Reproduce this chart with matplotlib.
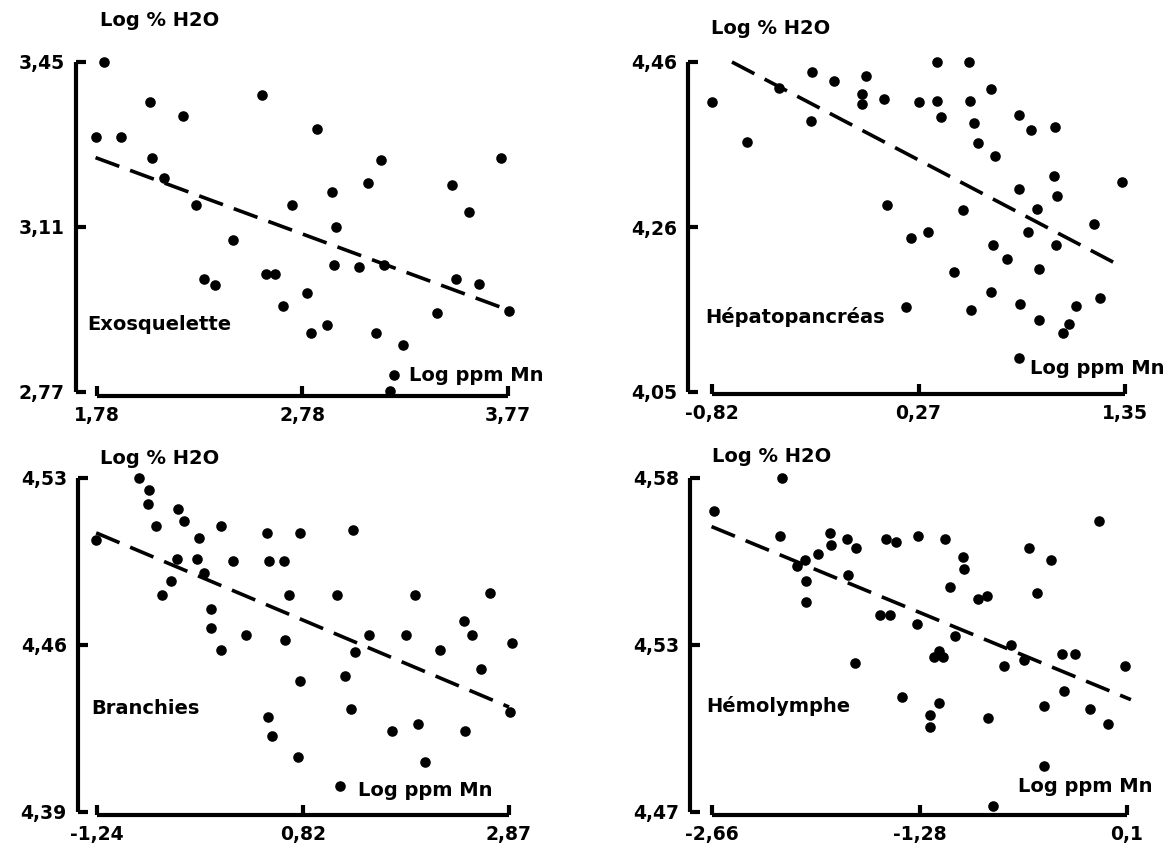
import matplotlib.pyplot as plt

W, H = 1174, 861

# Exosquelette
exo_x = [1.813, 1.776, 1.896, 2.035, 2.044, 2.195, 2.103, 2.260, 2.579, 2.437,
         2.297, 2.349, 2.597, 2.643, 2.726, 2.681, 2.843, 2.797, 2.815, 2.894,
         2.920, 2.935, 2.929, 3.049, 3.091, 3.157, 3.170, 3.129, 3.262, 3.220,
         3.198, 3.497, 3.580, 3.517, 3.632, 3.426, 3.738, 3.775]
exo_y = [3.450, 3.296, 3.296, 3.367, 3.253, 3.339, 3.211, 3.155, 3.383, 3.083,
         3.002, 2.990, 3.014, 3.014, 3.156, 2.947, 3.311, 2.975, 2.892, 2.908,
         3.183, 3.110, 3.031, 3.028, 3.201, 3.248, 3.031, 2.892, 2.866, 2.806,
         2.772, 3.196, 3.141, 3.002, 2.993, 2.933, 3.253, 2.936]
exo_line_x = [1.773, 3.733]
exo_line_y = [3.253, 2.945]
exo_xlim = [1.78, 3.77]
exo_ylim = [2.77, 3.45]
exo_xticklabels = ['1,78', '2,78', '3,77']
exo_yticklabels = ['2,77', '3,11', '3,45']

# Hépatopancréas
hep_x = [-0.820, -0.635, -0.467, -0.292, -0.302, -0.179, -0.010, -0.030, -0.030, 0.085,
         0.099, 0.268, 0.361, 0.361, 0.381, 0.225, 0.314, 0.200, 0.449, 0.498,
         0.532, 0.536, 0.556, 0.580, 0.645, 0.665, 0.542, 0.645, 0.659, 0.729,
         0.794, 0.854, 0.794, 0.889, 0.838, 0.800, 0.899, 0.899, 0.794, 0.983,
         0.979, 0.993, 0.989, 1.092, 1.058, 1.022, 1.187, 1.221, 1.336]
hep_y = [4.410, 4.360, 4.428, 4.448, 4.387, 4.437, 4.443, 4.420, 4.408, 4.414,
         4.282, 4.410, 4.460, 4.411, 4.392, 4.241, 4.249, 4.156, 4.199, 4.276,
         4.460, 4.411, 4.384, 4.359, 4.427, 4.343, 4.152, 4.174, 4.233, 4.215,
         4.394, 4.376, 4.302, 4.277, 4.249, 4.159, 4.203, 4.139, 4.092, 4.379,
         4.318, 4.293, 4.233, 4.157, 4.134, 4.123, 4.259, 4.167, 4.311]
hep_line_x = [-0.715, 1.307]
hep_line_y = [4.460, 4.209]
hep_xlim = [-0.82, 1.35]
hep_ylim = [4.05, 4.46]
hep_xticklabels = ['-0,82', '0,27', '1,35']
hep_yticklabels = ['4,05', '4,26', '4,46']

# Branchies
bra_x = [-1.248, -0.821, -0.726, -0.733, -0.650, -0.429, -0.376, -0.220, -0.440, -0.505,
         -0.593, -0.243, -0.174, -0.098, -0.098, -0.003, -0.003, 0.119, 0.244, 0.454,
         0.473, 0.625, 0.674, 0.633, 0.785, 0.789, 0.462, 0.504, 0.766, 1.150,
         1.310, 1.329, 1.238, 1.291, 1.188, 1.474, 1.699, 1.843, 1.931, 1.965,
         2.034, 2.178, 2.426, 2.501, 2.593, 2.433, 2.680, 2.897, 2.878]
bra_y = [4.504, 4.530, 4.525, 4.519, 4.510, 4.517, 4.512, 4.505, 4.496, 4.487,
         4.481, 4.496, 4.490, 4.475, 4.467, 4.458, 4.510, 4.495, 4.464, 4.507,
         4.495, 4.495, 4.481, 4.462, 4.507, 4.445, 4.430, 4.422, 4.413, 4.481,
         4.508, 4.457, 4.447, 4.433, 4.401, 4.464, 4.424, 4.464, 4.481, 4.427,
         4.411, 4.458, 4.470, 4.464, 4.450, 4.424, 4.482, 4.461, 4.432]
bra_line_x = [-1.248, 2.870]
bra_line_y = [4.507, 4.434]
bra_xlim = [-1.24, 2.87]
bra_ylim = [4.39, 4.53]
bra_xticklabels = ['-1,24', '0,82', '2,87']
bra_yticklabels = ['4,39', '4,46', '4,53']

# Hémolymphe
hem_x = [-2.650, -2.196, -2.206, -2.093, -2.042, -2.032, -2.037, -1.957, -1.873, -1.868,
         -1.760, -1.704, -1.755, -1.710, -1.546, -1.478, -1.503, -1.437, -1.394, -1.289,
         -1.299, -1.210, -1.210, -1.150, -1.185, -1.150, -1.122, -1.110, -1.079, -1.041,
         -0.991, -0.986, -0.890, -0.832, -0.822, -0.789, -0.721, -0.670, -0.587, -0.550,
         -0.499, -0.449, -0.449, -0.406, -0.318, -0.330, -0.247, -0.146, -0.083, -0.028,
         0.088]
hem_y = [4.569, 4.580, 4.561, 4.551, 4.553, 4.546, 4.539, 4.555, 4.562, 4.558,
         4.560, 4.557, 4.548, 4.519, 4.535, 4.535, 4.560, 4.559, 4.508, 4.561,
         4.532, 4.502, 4.498, 4.506, 4.521, 4.523, 4.521, 4.560, 4.544, 4.528,
         4.554, 4.550, 4.540, 4.541, 4.501, 4.472, 4.518, 4.525, 4.520, 4.557,
         4.542, 4.505, 4.485, 4.553, 4.510, 4.522, 4.522, 4.504, 4.566, 4.499,
         4.518]
hem_line_x = [-2.663, 0.126]
hem_line_y = [4.564, 4.507]
hem_xlim = [-2.66, 0.1]
hem_ylim = [4.47, 4.58]
hem_xticklabels = ['-2,66', '-1,28', '0,1']
hem_yticklabels = ['4,47', '4,53', '4,58']


def fig_xy(x, y):
    # pixel position -> figure fraction
    return x / W, 1 - y / H


def create_plot(fig, box, x, y, line_x, line_y, xlim, ylim, xlabels, ylabels,
                left_off, bottom_off, name, title_pos, name_pos, xname_pos):
    x0, y0, x1, y1 = box
    ax = fig.add_axes([x0 / W, 1 - y1 / H, (x1 - x0) / W, (y1 - y0) / H])
    ax.scatter(x, y, s=58, c='k', linewidths=0, clip_on=False, zorder=3)
    ax.plot(line_x, line_y, c='k', lw=2.6, dashes=(7, 3.2), solid_capstyle='butt',
            clip_on=False)
    ax.set_xlim(xlim)
    ax.set_ylim(ylim)
    ax.set_xticks([xlim[0], (xlim[0] + xlim[1]) / 2, xlim[1]])
    ax.set_xticklabels(xlabels)
    ax.set_yticks([ylim[0], (ylim[0] + ylim[1]) / 2, ylim[1]])
    ax.set_yticklabels(ylabels)
    for s in ['top', 'right']:
        ax.spines[s].set_visible(False)
    ax.spines['left'].set_position(('outward', left_off * 0.72))
    ax.spines['bottom'].set_position(('outward', bottom_off * 0.72))
    ax.spines['left'].set_bounds(ylim[0], ylim[1])
    ax.spines['bottom'].set_bounds(xlim[0], xlim[1])
    for s in ['left', 'bottom']:
        ax.spines[s].set_linewidth(3.0)
        ax.spines[s].set_capstyle('butt')
    ax.tick_params(axis='both', direction='in', length=7, width=3.0,
                   labelsize=13.5)
    ax.tick_params(axis='y', pad=8)
    ax.tick_params(axis='x', pad=7)
    for lab in ax.get_xticklabels() + ax.get_yticklabels():
        lab.set_fontweight('bold')
    ax.patch.set_visible(False)

    fig.text(*fig_xy(*title_pos), 'Log % H2O', fontsize=14, fontweight='bold',
             ha='left', va='center')
    fig.text(*fig_xy(*name_pos), name, fontsize=14, fontweight='bold',
             ha='left', va='center')
    fig.text(*fig_xy(*xname_pos), 'Log ppm Mn', fontsize=14, fontweight='bold',
             ha='left', va='center')
    return ax


fig = plt.figure(figsize=(W / 100, H / 100), dpi=100)

create_plot(fig, (97, 62, 508, 392), exo_x, exo_y, exo_line_x, exo_line_y,
            exo_xlim, exo_ylim, exo_xticklabels, exo_yticklabels, 21, 4,
            'Exosquelette', (100, 20), (87, 324), (409, 376))
create_plot(fig, (712, 62, 1125, 392), hep_x, hep_y, hep_line_x, hep_line_y,
            hep_xlim, hep_ylim, hep_xticklabels, hep_yticklabels, 24, 2,
            'Hépatopancréas', (711, 29), (705, 317), (1030, 368))
create_plot(fig, (97, 478, 509, 812), bra_x, bra_y, bra_line_x, bra_line_y,
            bra_xlim, bra_ylim, bra_xticklabels, bra_yticklabels, 19, 3,
            'Branchies', (100, 459), (91, 709), (358, 791))
create_plot(fig, (712, 478, 1127, 812), hem_x, hem_y, hem_line_x, hem_line_y,
            hem_xlim, hem_ylim, hem_xticklabels, hem_yticklabels, 22, 3,
            'Hémolymphe', (712, 457), (706, 706), (1018, 787))

fig.savefig('out.png', dpi=100)
